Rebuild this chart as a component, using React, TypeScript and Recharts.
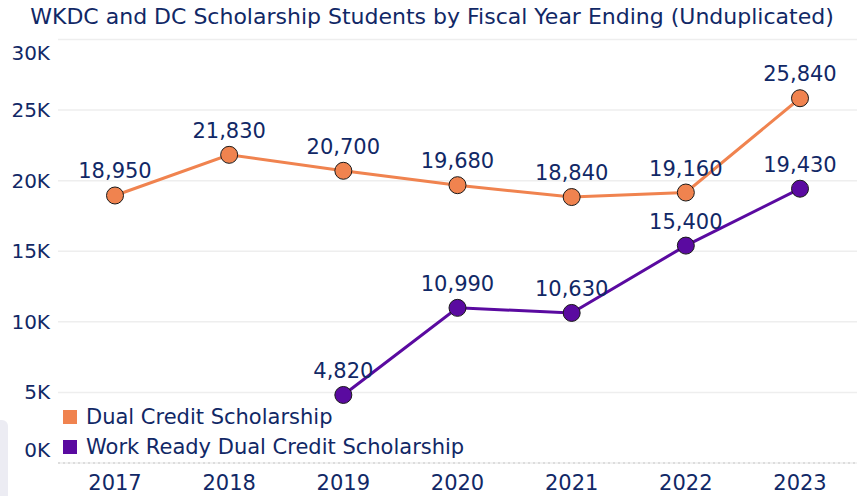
import React from "react";
import { LineChart, Line, XAxis, YAxis, CartesianGrid, LabelList } from "recharts";

const years = ["2017", "2018", "2019", "2020", "2021", "2022", "2023"];
const dualCredit = [18950, 21830, 20700, 19680, 18840, 19160, 25840];
const workReady: (number | null)[] = [null, null, 4820, 10990, 10630, 15400, 19430];
const yTicks = [0, 5000, 10000, 15000, 20000, 25000, 30000];
const seriesNames = ["Dual Credit Scholarship", "Work Ready Dual Credit Scholarship"];

const data = years.map((y, i) => ({ year: y, dc: dualCredit[i], wr: workReady[i] }));

const NAVY = "#112866";
const ORANGE = "#F0834F";
const PURPLE = "#5A0AA0";
const FONT = "'DejaVu Sans', sans-serif";

const fmt = (v: any) => (v == null ? "" : Number(v).toLocaleString("en-US"));

const YTick = (props: any) => {
  const { y, payload } = props;
  let dy = 7;
  if (payload.value === 30000) dy = 20;
  if (payload.value === 0) dy = -6;
  return (
    <text x={50} y={y + dy} textAnchor="end" fill={NAVY} fontSize={20} fontFamily={FONT}>
      {`${payload.value / 1000}K`}
    </text>
  );
};

const XTick = (props: any) => {
  const { x, payload } = props;
  return (
    <text x={x} y={490} textAnchor="middle" fill={NAVY} fontSize={21} fontFamily={FONT}>
      {payload.value}
    </text>
  );
};

export default function App() {
  return (
    <div style={{ position: "absolute", left: 0, top: 0, width: 860, height: 496, background: "#fff", overflow: "hidden" }}>
      <div style={{ position: "absolute", left: 0, top: 420, width: 8, height: 90, background: "#ececf3", borderRadius: "0 6px 0 0" }} />
      <div
        style={{
          position: "absolute",
          left: 0,
          top: 4,
          width: 864,
          textAlign: "center",
          fontFamily: FONT,
          fontSize: 22,
          color: NAVY,
          whiteSpace: "nowrap",
        }}
      >
        WKDC and DC Scholarship Students by Fiscal Year Ending (Unduplicated)
      </div>
      <LineChart width={860} height={496} data={data} margin={{ top: 39.5, right: 3, left: 0, bottom: 0 }}>
        <CartesianGrid vertical={false} stroke="#eeeeee" strokeWidth={1.5} />
        <XAxis
          dataKey="year"
          height={33}
          padding={{ left: 57, right: 57 }}
          axisLine={{ stroke: "#c8c8c8", strokeDasharray: "2 3" }}
          tickLine={false}
          tick={<XTick />}
          interval={0}
        />
        <YAxis
          width={58}
          domain={[0, 30000]}
          ticks={yTicks}
          axisLine={false}
          tickLine={false}
          tick={<YTick />}
          interval={0}
        />
        <Line
          dataKey="dc"
          name={seriesNames[0]}
          stroke={ORANGE}
          strokeWidth={3}
          dot={{ r: 8.5, fill: ORANGE, stroke: "#1a1a1a", strokeWidth: 1 }}
          isAnimationActive={false}
        >
          <LabelList dataKey="dc" position="top" offset={17} formatter={fmt} fill={NAVY} fontSize={21} fontFamily={FONT} />
        </Line>
        <Line
          dataKey="wr"
          name={seriesNames[1]}
          stroke={PURPLE}
          strokeWidth={3}
          dot={{ r: 8.5, fill: PURPLE, stroke: "#1a1a1a", strokeWidth: 1 }}
          isAnimationActive={false}
        >
          <LabelList dataKey="wr" position="top" offset={17} formatter={fmt} fill={NAVY} fontSize={21} fontFamily={FONT} />
        </Line>
      </LineChart>
      <div style={{ position: "absolute", left: 63, top: 402, fontFamily: FONT, fontSize: 21, color: NAVY }}>
        {[ORANGE, PURPLE].map((c, i) => (
          <div key={i} style={{ display: "flex", alignItems: "center", height: 30 }}>
            <div style={{ width: 14, height: 14, background: c, marginRight: 9 }} />
            <span style={{ whiteSpace: "nowrap" }}>{seriesNames[i]}</span>
          </div>
        ))}
      </div>
    </div>
  );
}
